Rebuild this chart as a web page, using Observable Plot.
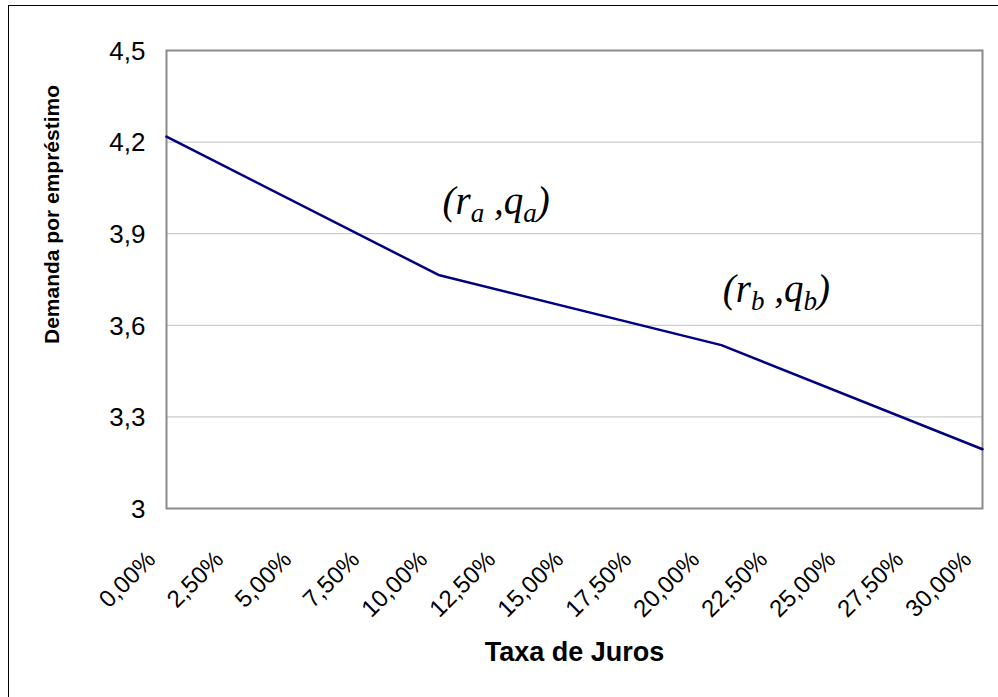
<!DOCTYPE html>
<html>
<head>
<meta charset="utf-8">
<script src="https://cdn.jsdelivr.net/npm/d3@7"></script>
<script src="https://cdn.jsdelivr.net/npm/@observablehq/plot@0.6"></script>
<style>
  html, body { margin: 0; padding: 0; background: #fff; }
  #wrap { position: relative; width: 998px; height: 697px; overflow: hidden; }
  #border { position: absolute; left: 8px; top: 5px; width: 1100px; height: 800px;
            border-left: 1px solid #000; border-top: 1px solid #000; pointer-events: none; }
  #chart svg { display: block; }
</style>
</head>
<body>
<div id="wrap"><div id="chart"></div><div id="border"></div></div>
<script>
// Data
const rates  = [0, 10, 20.4, 30];            // Taxa de Juros (%)
const demand = [4.218, 3.765, 3.535, 3.194]; // Demanda por empréstimo

const yTicks = [3, 3.3, 3.6, 3.9, 4.2, 4.5];
const xTicks = [0, 2.5, 5, 7.5, 10, 12.5, 15, 17.5, 20, 22.5, 25, 27.5, 30];

const annoX = [10.15, 20.45];
const annoY = [3.965, 3.676];
const annoVar = [["r", "a", "q", "a"], ["r", "b", "q", "b"]];

const xTitle = "Taxa de Juros";
const yTitle = "Demanda por empréstimo";

const data = rates.map((r, i) => ({ r, q: demand[i] }));
const annos = annoX.map((x, i) => ({ x, y: annoY[i], parts: annoVar[i],
  label: `(${annoVar[i][0]}${annoVar[i][1]} ,${annoVar[i][2]}${annoVar[i][3]})` }));

const comma = (s) => String(s).replace(".", ",");

const chart = Plot.plot({
  width: 998,
  height: 697,
  marginLeft: 166,
  marginRight: 16,
  marginTop: 50,
  marginBottom: 189,
  style: { fontFamily: "Arial, 'Liberation Sans', sans-serif", background: "#fff", color: "#000" },
  x: { domain: [0, 30], axis: null },
  y: { domain: [3, 4.5], axis: null },
  marks: [
    Plot.gridY(yTicks.filter(t => t > 3 && t < 4.5), { stroke: "#c0c0c0", strokeOpacity: 1, strokeWidth: 1 }),
    Plot.frame({ stroke: "#8a8a8a", strokeWidth: 2 }),
    Plot.line(data, { x: "r", y: "q", stroke: "#000080", strokeWidth: 2.5 }),
    // y tick labels
    Plot.text(yTicks, { y: d => d, frameAnchor: "left", dx: -21, dy: 1, textAnchor: "end",
      text: d => comma(d), fontSize: 26, fill: "#000" }),
    // x tick labels (rotated)
    Plot.text(xTicks, { x: d => d, frameAnchor: "bottom", dx: -15, dy: 47, rotate: -45,
      textAnchor: "end", lineAnchor: "middle",
      text: d => comma(d.toFixed(2)) + "%", fontSize: 24, fill: "#000" }),
    Plot.text([xTitle], { frameAnchor: "bottom", dy: 152, fontSize: 27, fontWeight: "bold", text: d => d }),
    Plot.text([yTitle], { frameAnchor: "left", dx: -114, dy: -65, rotate: -90, textAnchor: "middle",
      fontSize: 21, fontWeight: "bold", text: d => d }),
    Plot.text(annos, { x: "x", y: "y", text: "label", textAnchor: "start", lineAnchor: "bottom",
      fontSize: 39, fontStyle: "italic", fontFamily: "'Times New Roman', 'Liberation Serif', serif",
      className: "anno" })
  ]
});

// Rebuild annotation labels with real subscripts
d3.select(chart).selectAll(".anno text").each(function (d, i) {
  const a = annos[i];
  const t = d3.select(this);
  t.text(null);
  t.append("tspan").text("(" + a.parts[0]);
  t.append("tspan").attr("font-size", 27).attr("dy", 8).text(a.parts[1]);
  t.append("tspan").attr("dy", -8).text(" ,");
  t.append("tspan").text(a.parts[2]);
  t.append("tspan").attr("font-size", 27).attr("dy", 8).text(a.parts[3]);
  t.append("tspan").attr("dy", -8).text(")");
});

document.getElementById("chart").appendChild(chart);
</script>
</body>
</html>
